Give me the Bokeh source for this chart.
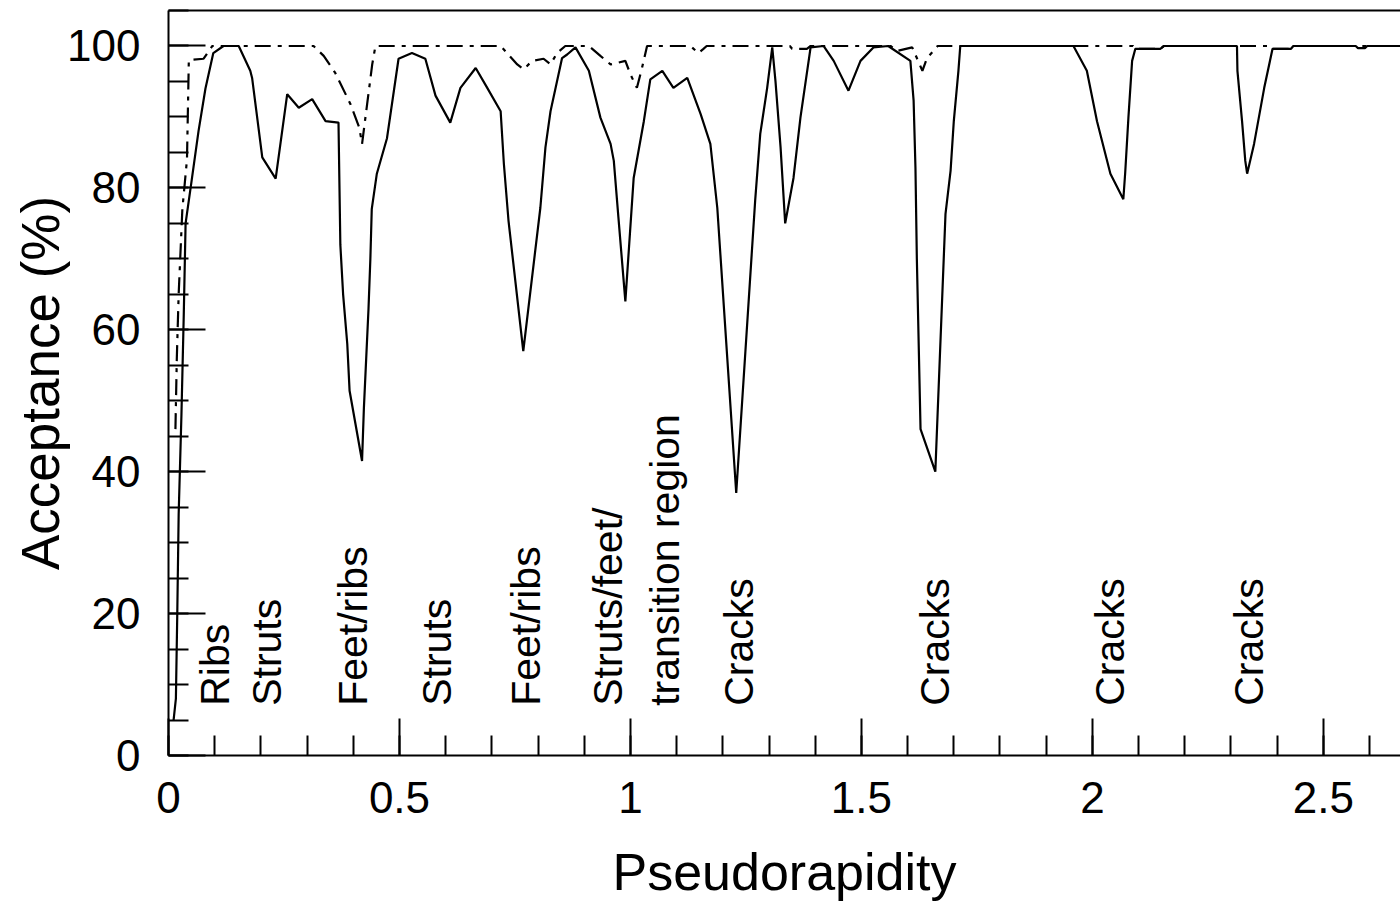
import math
from bokeh.plotting import figure
from bokeh.models import (SingleIntervalTicker, LinearAxis, NumeralTickFormatter,
                          Range1d, ColumnDataSource)
from bokeh.core.properties import value
from bokeh.embed import file_html
from bokeh.resources import INLINE

# ---- data ----
solid_eta = [0.011, 0.016, 0.019, 0.022, 0.028, 0.033, 0.037, 0.05, 0.065, 0.08, 0.097,
             0.119, 0.152, 0.177, 0.181, 0.203, 0.232, 0.257, 0.282, 0.311, 0.34, 0.368,
             0.372, 0.378, 0.387, 0.392, 0.419, 0.423, 0.428, 0.433, 0.437, 0.44, 0.451,
             0.473, 0.498, 0.527, 0.556, 0.578, 0.61, 0.632, 0.665, 0.69, 0.719, 0.726,
             0.736, 0.768, 0.805, 0.816, 0.827, 0.852, 0.863, 0.881, 0.91, 0.935, 0.957,
             0.964, 0.974, 0.989, 1.007, 1.029, 1.043, 1.069, 1.093, 1.123, 1.152, 1.173,
             1.188, 1.229, 1.27, 1.281, 1.296, 1.307, 1.314, 1.325, 1.335, 1.353, 1.368,
             1.39, 1.418, 1.44, 1.472, 1.498, 1.526, 1.558, 1.606, 1.613, 1.617, 1.62,
             1.628, 1.66, 1.682, 1.693, 1.70, 1.71, 1.714, 1.959, 1.988, 2.01, 2.039,
             2.067, 2.071, 2.078, 2.086, 2.093, 2.147, 2.155, 2.313, 2.314, 2.324, 2.331,
             2.335, 2.35, 2.372, 2.39, 2.43, 2.435, 2.57, 2.575, 2.59, 2.595, 2.7]
solid_acc = [5, 8, 20, 34, 48, 62, 75, 81, 88, 94, 99,
             100, 100, 96.5, 95.5, 84.3, 81.3, 93.2, 91.3, 92.5, 89.4, 89.2,
             72, 65, 58, 51.4, 41.5, 49, 56, 63, 70, 77, 82,
             87, 98.2, 99, 98.2, 93, 89.2, 94.1, 96.9, 94.1, 90.8, 83.4,
             75.4, 57, 77.2, 85.7, 90.8, 98.3, 98.8, 99.8, 96.5, 89.9, 86.2,
             83.8, 75.8, 64, 81.4, 89.4, 95.3, 96.5, 94.1, 95.5, 90.4, 86.2,
             77.2, 37, 78.2, 87.6, 94.1, 99.8, 95, 85.7, 75, 81.4, 89.9,
             99.8, 100, 97.9, 93.7, 97.9, 99.8, 100, 97.9, 92.3, 82.8, 70,
             46, 40, 76.3, 82.4, 89.4, 96.5, 100, 100, 96.5, 89.4, 82,
             78.4, 82.1, 89.9, 97.9, 99.6, 99.6, 100, 100, 96.5, 89.4, 83.8,
             82, 86.2, 94.1, 99.6, 99.6, 100, 100, 99.7, 99.7, 100, 100]

dash_eta = [0.015, 0.018, 0.022, 0.03, 0.04, 0.044, 0.076, 0.095, 0.314, 0.336, 0.361,
            0.394, 0.413, 0.419, 0.43, 0.441, 0.448, 0.719, 0.733, 0.755, 0.769, 0.787,
            0.812, 0.827, 0.841, 0.859, 0.91, 0.935, 0.957, 0.989, 1.0, 1.014, 1.025,
            1.036, 1.13, 1.147, 1.158, 1.165, 1.345, 1.35, 1.382, 1.39, 1.563, 1.577,
            1.61, 1.62, 1.632, 1.642, 1.656, 1.665, 2.088, 2.093, 2.147, 2.155, 2.385,
            2.39, 2.43, 2.435, 2.7]
dash_acc = [46, 56, 65, 77, 84, 98, 98.2, 100, 100, 98.6, 96.2,
            91.8, 88.5, 86.2, 91.8, 97.4, 100, 100, 99, 97.4, 96.7, 97.9,
            98.2, 97.4, 99, 100, 100, 98.6, 97.4, 97.9, 96, 94.1, 96.9,
            100, 100, 99, 99.6, 100, 100, 99.6, 99.6, 100, 100, 99.3,
            99.8, 98.3, 96.5, 98.3, 99.3, 100, 100, 99.6, 99.6, 100, 100,
            99.6, 99.6, 100, 100]

label_texts = ["Ribs", "Struts", "Feet/ribs", "Struts", "Feet/ribs", "Struts/feet/",
               "transition region", "Cracks", "Cracks", "Cracks", "Cracks"]
label_eta = [0.10, 0.214, 0.40, 0.582, 0.773, 0.952, 1.074, 1.236, 1.66, 2.039, 2.338]
label_acc = [7.0, 7.0, 7.0, 7.0, 7.0, 7.0, 7.0, 7.0, 7.0, 7.0, 7.0]

x_title = "Pseudorapidity"
y_title = "Acceptance (%)"

FONT = "Liberation Sans"

p = figure(width=1400, height=903, output_backend="svg", toolbar_location=None,
           x_range=Range1d(0, 2.667), y_range=Range1d(0, 105),
           min_border_left=168, min_border_right=0, min_border_top=10,
           min_border_bottom=148, x_axis_location=None, y_axis_location=None)
p.outline_line_color = None
p.xgrid.visible = False
p.ygrid.visible = False
p.background_fill_color = "white"
p.border_fill_color = "white"

xaxis = LinearAxis(ticker=SingleIntervalTicker(interval=0.5, num_minor_ticks=5),
                   formatter=NumeralTickFormatter(format="0.[0]"))
yaxis = LinearAxis(ticker=SingleIntervalTicker(interval=20, num_minor_ticks=4))
for ax in (xaxis, yaxis):
    ax.axis_line_width = 2
    ax.axis_line_color = "black"
    ax.major_tick_in = 37
    ax.major_tick_out = 0
    ax.minor_tick_in = 20
    ax.minor_tick_out = 0
    ax.major_tick_line_width = 2
    ax.minor_tick_line_width = 2
    ax.major_tick_line_color = "black"
    ax.minor_tick_line_color = "black"
    ax.major_label_text_font = FONT
    ax.major_label_text_font_size = "44px"
    ax.major_label_text_color = "black"
    ax.major_label_text_line_height = 1.0
    ax.axis_label_text_font = FONT
    ax.axis_label_text_font_style = "normal"
    ax.axis_label_text_color = "black"
    ax.axis_label_text_line_height = 1.0
xaxis.axis_label = x_title
xaxis.axis_label_text_font_size = "52px"
xaxis.major_label_standoff = 26
xaxis.axis_label_standoff = 27
yaxis.axis_label = y_title
yaxis.axis_label_text_font_size = "53px"
yaxis.major_label_standoff = 28
yaxis.axis_label_standoff = -6
p.add_layout(xaxis, "below")
p.add_layout(yaxis, "left")

top = LinearAxis(ticker=SingleIntervalTicker(interval=0.5), axis_line_width=2,
                 major_tick_line_color=None, minor_tick_line_color=None,
                 major_label_text_font_size="0px", major_label_text_alpha=0)
top.major_label_standoff = 0
p.add_layout(top, "above")

p.line(solid_eta, solid_acc, line_color="black", line_width=2.2)
p.line(dash_eta, dash_acc, line_color="black", line_width=2.2, line_dash="16 7 4 7")

src = ColumnDataSource(dict(x=label_eta, y=label_acc, t=label_texts))
p.text(x="x", y="y", text="t", source=src, angle=math.pi / 2,
       text_align="left", text_baseline="middle", text_font=value(FONT),
       text_font_size="41px", text_color="black")

open("out.html", "w").write(file_html(p, INLINE))
